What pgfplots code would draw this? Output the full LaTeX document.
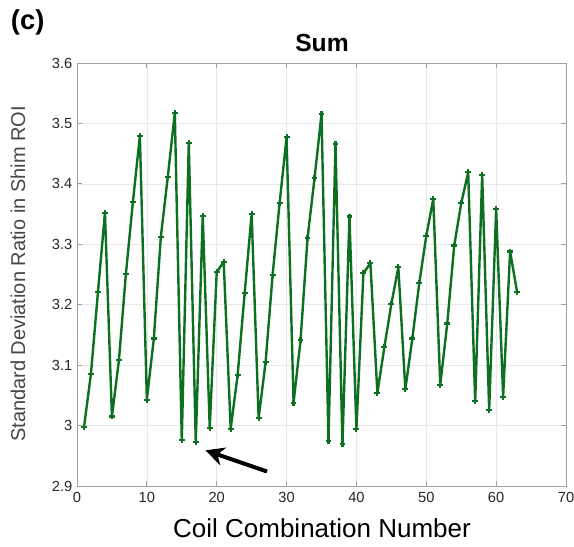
\documentclass[border=0pt]{standalone}
\usepackage{fontspec}
\setmainfont{Liberation Sans}
\usepackage{pgfplots}
\pgfplotsset{compat=1.18}
\usetikzlibrary{arrows.meta}

\definecolor{linegreen}{RGB}{12,112,32}
\definecolor{tickgray}{RGB}{38,38,38}
\definecolor{axgray}{RGB}{160,160,160}
\definecolor{gridgray}{RGB}{233,233,233}
\definecolor{ylabgray}{RGB}{70,70,70}

\pgfplotstableread{
x y
1 2.997
2 3.086
3 3.221
4 3.352
5 3.015
6 3.108
7 3.251
8 3.370
9 3.479
10 3.043
11 3.144
12 3.312
13 3.412
14 3.517
15 2.976
16 3.468
17 2.973
18 3.347
19 2.996
20 3.254
21 3.271
22 2.995
23 3.084
24 3.219
25 3.350
26 3.012
27 3.105
28 3.249
29 3.368
30 3.477
31 3.038
32 3.141
33 3.310
34 3.409
35 3.515
36 2.975
37 3.466
38 2.970
39 3.346
40 2.994
41 3.252
42 3.269
43 3.054
44 3.130
45 3.201
46 3.262
47 3.060
48 3.144
49 3.236
50 3.314
51 3.375
52 3.067
53 3.169
54 3.298
55 3.368
56 3.419
57 3.040
58 3.415
59 3.026
60 3.358
61 3.048
62 3.288
63 3.221
}\sumdata

\begin{document}
\begin{tikzpicture}
% canvas: 574x546 px at 0.75pt/px, axis box lower-left at origin
\path[use as bounding box] (-57.75pt,-45pt) rectangle (372.75pt,364.5pt);
\begin{axis}[
    at={(0,0)}, anchor=south west,
    scale only axis,
    width=366.75pt,
    height=317.25pt,
    xmin=0, xmax=70,
    ymin=2.9, ymax=3.6,
    xtick={0,10,...,70},
    ytick={2.9,3.0,...,3.6},
    tick align=inside,
    major tick length=4pt,
    grid=major,
    major grid style={gridgray, line width=0.5pt},
    axis line style={axgray, line width=0.6pt},
    every tick/.style={axgray, line width=0.6pt},
    /pgf/number format/assume math mode=true,
    ticklabel style={font=\fontsize{11}{13}\selectfont, text=tickgray},
    xticklabel style={yshift=-1pt},
]
\addplot[linegreen, line width=1.8pt, line join=round, mark=+, mark size=2.2pt,
    mark options={line width=1.6pt}] table[x=x, y=y] {\sumdata};
\draw[black, line width=3pt, -{Stealth[length=14pt, width=14pt]}]
    (axis cs:27.2,2.924) -- (axis cs:18.4,2.959);
\end{axis}
\node[font=\fontsize{20.5}{24}\selectfont\bfseries] at (-37pt,348pt) {(c)};
\node[font=\fontsize{18.5}{22}\selectfont\bfseries] at (183.75pt,332.25pt) {Sum};
\node[font=\fontsize{19.5}{23}\selectfont, text=black] at (183.75pt,-31.5pt) {Coil Combination Number};
\node[font=\fontsize{15}{18}\selectfont, text=ylabgray, rotate=90] at (-44.25pt,159pt) {Standard Deviation Ratio in Shim ROI};
\end{tikzpicture}
\end{document}
